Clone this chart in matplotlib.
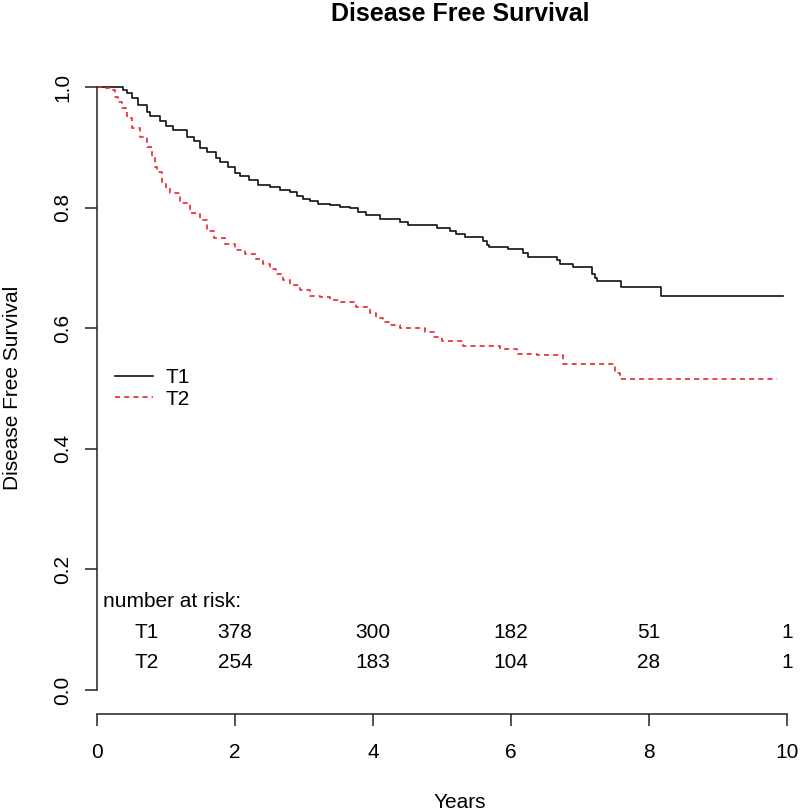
import matplotlib
matplotlib.use("Agg")
import matplotlib.pyplot as plt

# Kaplan-Meier steps (years, survival)
t1_time = [0, 0.38, 0.43, 0.5, 0.6, 0.72, 0.77, 0.91, 1.0, 1.1, 1.3, 1.4, 1.49, 1.6,
           1.72, 1.78, 1.9, 2.0, 2.07, 2.2, 2.33, 2.51, 2.65, 2.8, 2.9, 2.98, 3.09,
           3.2, 3.38, 3.52, 3.67, 3.78, 3.9, 4.1, 4.25, 4.39, 4.5, 4.93, 5.12, 5.2,
           5.33, 5.6, 5.65, 5.68, 5.96, 6.18, 6.25, 6.67, 6.71, 6.9, 7.17, 7.22,
           7.25, 7.6, 8.17, 9.94]
t1_surv = [1.0, 0.995, 0.99, 0.982, 0.97, 0.958, 0.952, 0.944, 0.935, 0.929, 0.918,
           0.91, 0.899, 0.892, 0.882, 0.875, 0.867, 0.858, 0.852, 0.846, 0.838,
           0.834, 0.829, 0.826, 0.82, 0.815, 0.811, 0.806, 0.804, 0.801, 0.799,
           0.793, 0.788, 0.782, 0.781, 0.776, 0.771, 0.766, 0.761, 0.756, 0.751,
           0.745, 0.738, 0.734, 0.731, 0.725, 0.718, 0.713, 0.707, 0.701, 0.69,
           0.683, 0.678, 0.669, 0.653, 0.653]

t2_time = [0, 0.12, 0.19, 0.26, 0.3, 0.36, 0.43, 0.5, 0.62, 0.72, 0.8, 0.84, 0.87,
           0.94, 1.0, 1.06, 1.2, 1.35, 1.49, 1.6, 1.7, 1.85, 2.0, 2.15, 2.3, 2.4,
           2.51, 2.6, 2.7, 2.8, 2.94, 3.09, 3.23, 3.38, 3.52, 3.76, 3.96, 4.05,
           4.14, 4.25, 4.39, 4.6, 4.76, 4.88, 5.0, 5.3, 5.84, 6.09, 6.38, 6.76,
           7.5, 7.58, 9.86]
t2_surv = [1.0, 0.998, 0.995, 0.983, 0.975, 0.965, 0.948, 0.932, 0.917, 0.90, 0.882,
           0.868, 0.86, 0.84, 0.832, 0.824, 0.807, 0.791, 0.779, 0.762, 0.75, 0.74,
           0.73, 0.723, 0.715, 0.706, 0.699, 0.69, 0.68, 0.671, 0.663, 0.654,
           0.651, 0.646, 0.643, 0.635, 0.626, 0.617, 0.61, 0.605, 0.601, 0.60,
           0.593, 0.585, 0.578, 0.571, 0.565, 0.558, 0.555, 0.54, 0.525, 0.515,
           0.515]

groups = ["T1", "T2"]
risk_times = [2, 4, 6, 8, 10]
risk_t1 = [378, 300, 182, 51, 1]
risk_t2 = [254, 183, 104, 28, 1]
x_ticks = [0, 2, 4, 6, 8, 10]
y_ticks = [0.0, 0.2, 0.4, 0.6, 0.8, 1.0]

plt.rcParams["font.family"] = ["Liberation Sans", "DejaVu Sans"]
FS = 15

W, H = 800, 811
fig = plt.figure(figsize=(W / 100, H / 100), dpi=100)
ax = fig.add_axes([97 / W, (H - 714) / H, (787 - 97) / W, (714 - 63) / H])

ax.step(t1_time, t1_surv, where="post", color="#111111", lw=1.2, label=groups[0])
ax.step(t2_time, t2_surv, where="post", color="#e8272c", lw=1.2,
        linestyle=(0, (3, 2.5)), label=groups[1])

ax.set_xlim(0, 10)
ax.set_ylim(-0.04, 1.04)
for side in ["top", "right"]:
    ax.spines[side].set_visible(False)
ax.spines["left"].set_bounds(0, 1)
ax.spines["bottom"].set_bounds(0, 10)
for side in ["left", "bottom"]:
    ax.spines[side].set_linewidth(1.1)
    ax.spines[side].set_color("#222222")

ax.set_xticks(x_ticks)
ax.set_xticklabels([str(v) for v in x_ticks])
ax.set_yticks(y_ticks)
ax.set_yticklabels([f"{v:.1f}" for v in y_ticks], rotation=90, va="center")
ax.tick_params(direction="out", length=8.8, width=1.1, color="#222222",
               labelsize=FS)
ax.tick_params(axis="x", pad=12)
ax.tick_params(axis="y", pad=9)

# legend drawn like R's legend(bty="n")
ax.legend(loc="center left", bbox_to_anchor=(0.026, 0.5), frameon=False,
          borderpad=0, borderaxespad=0, handlelength=1.85, handletextpad=0.6,
          labelspacing=0.1, fontsize=FS)

# number at risk table
ax.text(0.09, 0.146, "number at risk:", ha="left", va="center", fontsize=FS)
for row_y, name, counts in [(0.096, groups[0], risk_t1), (0.045, groups[1], risk_t2)]:
    ax.text(0.725, row_y, name, ha="center", va="center", fontsize=FS)
    for t, n in zip(risk_times, counts):
        ax.text(t, row_y, str(n), ha="center", va="center", fontsize=FS)

fig.text(460 / W, 1 - 14 / H, "Disease Free Survival", ha="center", va="center",
         fontsize=18, fontweight="bold")
fig.text(460 / W, 1 - 802 / H, "Years", ha="center", va="center", fontsize=FS)
fig.text(13 / W, 1 - 388 / H, "Disease Free Survival", ha="center", va="center",
         rotation=90, fontsize=FS)

fig.savefig("out.png", dpi=100)
